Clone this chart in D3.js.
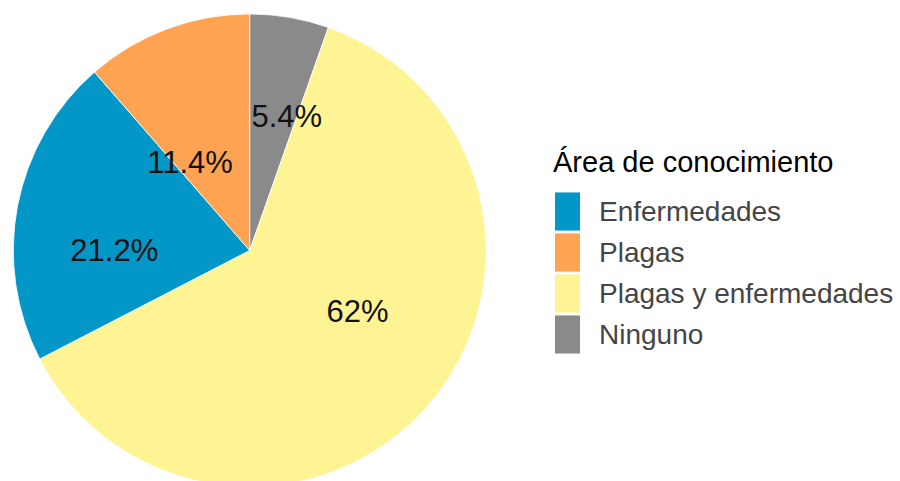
<!DOCTYPE html>
<html>
<head>
<meta charset="utf-8">
<script src="https://cdn.jsdelivr.net/npm/d3@7"></script>
<style>
  html, body { margin: 0; padding: 0; background: #fff; }
  svg { display: block; font-family: "Liberation Sans", Arial, sans-serif; }
</style>
</head>
<body>
<svg id="chart" width="900" height="481"></svg>
<script>
"use strict";

// Legend order (factor levels) and matching values / colours.
const categories = ["Enfermedades", "Plagas", "Plagas y enfermedades", "Ninguno"];
const shares = [21.2, 11.4, 62, 5.4];
const shareLabels = ["21.2%", "11.4%", "62%", "5.4%"];
const colors = ["#0397c8", "#fda351", "#fff494", "#8a8a8a"];

// Slices run clockwise from 12 o'clock in this order.
const pieOrder = ["Ninguno", "Plagas y enfermedades", "Enfermedades", "Plagas"];

// Label placement relative to each slice's middle: angle shift (deg) and
// radius as a fraction of the pie radius. The source nudged them by hand.
const labelPlacement = {
  "Ninguno": { shift: 5.7, rf: 0.59 },
  "Plagas y enfermedades": { shift: -11.9, rf: 0.522 },
  "Enfermedades": { shift: -10.4, rf: 0.573 },
  "Plagas": { shift: -13.3, rf: 0.453 },
};

const legendTitle = "Área de conocimiento";

const svg = d3.select("#chart");
const cx = 249.7, cy = 250.4, R = 236.4;

const color = d3.scaleOrdinal().domain(categories).range(colors);

const rows = pieOrder.map((c) => {
  const i = categories.indexOf(c);
  return { name: c, value: shares[i], label: shareLabels[i] };
});

const pie = d3.pie().sort(null).value((d) => d.value);
const arc = d3.arc().innerRadius(0).outerRadius(R);
const arcs = pie(rows);

const g = svg.append("g").attr("transform", `translate(${cx},${cy})`);

g.selectAll("path.slice")
  .data(arcs)
  .enter()
  .append("path")
  .attr("class", "slice")
  .attr("d", arc)
  .attr("fill", (d) => color(d.data.name))
  .attr("stroke", "#ffffff")
  .attr("stroke-width", 0.8);

g.selectAll("text.pct")
  .data(arcs)
  .enter()
  .append("text")
  .attr("class", "pct")
  .attr("text-anchor", "middle")
  .attr("font-size", 31)
  .attr("fill", "#111")
  .attr("dy", "0.357em")
  .attr("transform", (d) => {
    const p = labelPlacement[d.data.name];
    const a = (d.startAngle + d.endAngle) / 2 + (p.shift * Math.PI) / 180;
    const r = R * p.rf;
    return `translate(${r * Math.sin(a)},${-r * Math.cos(a)})`;
  })
  .text((d) => d.data.label);

// Legend
const lg = svg.append("g").attr("transform", "translate(553,0)");
lg.append("text")
  .attr("x", 0)
  .attr("y", 171.5)
  .attr("font-size", 29)
  .attr("fill", "#000")
  .text(legendTitle);

const keyY = d3.scaleBand().domain(categories).range([191, 355]).paddingInner(0.07).paddingOuter(0.035);

const item = lg.selectAll("g.item")
  .data(categories)
  .enter()
  .append("g")
  .attr("class", "item")
  .attr("transform", (d) => `translate(0,${keyY(d)})`);

item.append("rect")
  .attr("x", 2)
  .attr("width", 25)
  .attr("height", keyY.bandwidth())
  .attr("fill", (d) => color(d));

item.append("text")
  .attr("x", 46)
  .attr("y", keyY.bandwidth() / 2)
  .attr("dy", "0.357em")
  .attr("font-size", 28)
  .attr("fill", "#454545")
  .text((d) => d);
</script>
</body>
</html>
